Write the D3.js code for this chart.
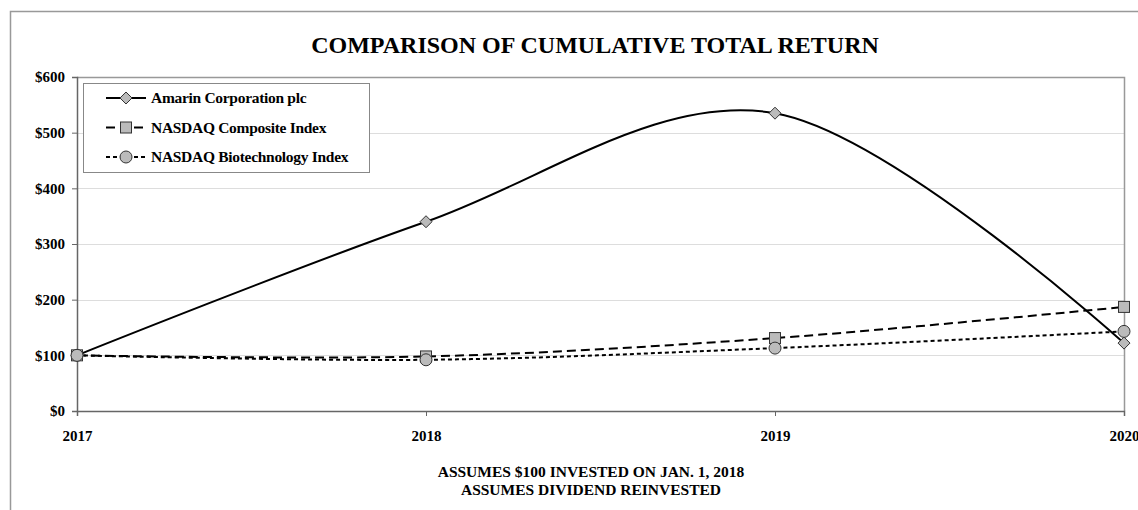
<!DOCTYPE html>
<html>
<head>
<meta charset="utf-8">
<script src="https://cdnjs.cloudflare.com/ajax/libs/d3/7.8.5/d3.min.js"></script>
<style>
  body { margin: 0; background: #fff; }
  svg text { font-family: "Liberation Serif", "Times New Roman", "DejaVu Serif", serif; }
</style>
</head>
<body>
<svg width="1138" height="510"></svg>
<script>
// data
var years = [2017, 2018, 2019, 2020];
var amarin = [100, 340, 535, 122];
var composite = [100, 98, 131, 187];
var biotech = [100, 92, 113, 143];
var yTicks = [0, 100, 200, 300, 400, 500, 600];

var svg = d3.select('svg');

var pLeft = 77, pRight = 1124, pTop = 77, pBottom = 411;

var x = d3.scaleLinear().domain([2017, 2020]).range([pLeft, pRight]);
var y = d3.scaleLinear().domain([0, 600]).range([pBottom, pTop]);

// outer frame (runs off the right / bottom of the picture)
svg.append('rect')
  .attr('x', 10.5)
  .attr('y', 11.5)
  .attr('width', 1200)
  .attr('height', 600)
  .attr('fill', 'none')
  .attr('stroke', '#999')
  .attr('stroke-width', 1.5);

// title
svg.append('text')
  .attr('x', 595)
  .attr('y', 53)
  .attr('text-anchor', 'middle')
  .attr('font-size', 24)
  .attr('font-weight', 'bold')
  .text('COMPARISON OF CUMULATIVE TOTAL RETURN');

// grid lines
svg.append('g')
  .selectAll('line')
  .data(yTicks.slice(1))
  .enter().append('line')
  .attr('x1', pLeft)
  .attr('x2', pRight)
  .attr('y1', function(d) { return Math.round(y(d)) + 0.5; })
  .attr('y2', function(d) { return Math.round(y(d)) + 0.5; })
  .attr('stroke', '#ddd')
  .attr('stroke-width', 1);

// plot area border top + right
svg.append('path')
  .attr('d', 'M' + pLeft + ',' + (pTop + 0.5) + 'H' + (pRight + 0.5) + 'V' + pBottom)
  .attr('fill', 'none')
  .attr('stroke', '#999')
  .attr('stroke-width', 1.5);

// axes
var yAxis = d3.axisLeft(y)
  .tickValues(yTicks)
  .tickSize(5)
  .tickPadding(7)
  .tickFormat(function(d) { return '$' + d; });

var yg = svg.append('g')
  .attr('transform', 'translate(' + pLeft + ',0)')
  .call(yAxis);

var xAxis = d3.axisBottom(x)
  .tickValues(years)
  .tickSize(5)
  .tickPadding(14)
  .tickFormat(d3.format('d'));

var xg = svg.append('g')
  .attr('transform', 'translate(0,' + pBottom + ')')
  .call(xAxis);

[yg, xg].forEach(function(g) {
  g.attr('font-family', null);
  g.select('.domain').attr('stroke', '#666').attr('stroke-width', 1.5);
  g.selectAll('.tick line').attr('stroke', '#666');
  g.selectAll('text')
    .attr('font-size', 15)
    .attr('font-weight', 'bold')
    .attr('fill', '#000');
});

// series
var series = [
  {name: 'Amarin Corporation plc', values: amarin, dash: null, marker: 'diamond'},
  {name: 'NASDAQ Composite Index', values: composite, dash: '9,5', marker: 'square'},
  {name: 'NASDAQ Biotechnology Index', values: biotech, dash: '4,3', marker: 'circle'}
];

var line = d3.line()
  .curve(d3.curveCardinal.tension(0))
  .x(function(d, i) { return x(years[i]); })
  .y(function(d) { return y(d); });

function drawMarker(g, type, cx, cy) {
  if (type == 'diamond') {
    g.append('path')
      .attr('d', 'M' + cx + ',' + (cy - 6) + 'L' + (cx + 6) + ',' + cy + 'L' + cx + ',' + (cy + 6) + 'L' + (cx - 6) + ',' + cy + 'Z')
      .attr('fill', '#bbb').attr('stroke', '#333').attr('stroke-width', 1);
  } else if (type == 'square') {
    g.append('rect')
      .attr('x', cx - 5.5).attr('y', cy - 5.5)
      .attr('width', 11).attr('height', 11)
      .attr('fill', '#bbb').attr('stroke', '#333').attr('stroke-width', 1);
  } else {
    g.append('circle')
      .attr('cx', cx).attr('cy', cy).attr('r', 6)
      .attr('fill', '#bbb').attr('stroke', '#333').attr('stroke-width', 1);
  }
}

series.slice().reverse().forEach(function(s) {
  svg.append('path')
    .attr('d', line(s.values))
    .attr('fill', 'none')
    .attr('stroke', '#000')
    .attr('stroke-width', 2)
    .attr('stroke-dasharray', s.dash);
});

series.forEach(function(s) {
  var g = svg.append('g');
  s.values.forEach(function(v, i) {
    drawMarker(g, s.marker, x(years[i]), y(v));
  });
});

// legend
var legend = svg.append('g');
legend.append('rect')
  .attr('x', 83.5)
  .attr('y', 83.5)
  .attr('width', 286)
  .attr('height', 89)
  .attr('fill', '#fff')
  .attr('stroke', '#888')
  .attr('stroke-width', 1);

series.forEach(function(s, i) {
  var ly = 98 + i * 29.5;
  legend.append('line')
    .attr('x1', 106)
    .attr('x2', 146)
    .attr('y1', ly)
    .attr('y2', ly)
    .attr('stroke', '#000')
    .attr('stroke-width', 2)
    .attr('stroke-dasharray', s.dash);
  drawMarker(legend, s.marker, 126, ly);
  legend.append('text')
    .attr('x', 151)
    .attr('y', ly + 5)
    .attr('font-size', 15.5)
    .attr('font-weight', 'bold')
    .attr('letter-spacing', -0.3)
    .text(s.name);
});

// footnote
var notes = ['ASSUMES $100 INVESTED ON JAN. 1, 2018', 'ASSUMES DIVIDEND REINVESTED'];
svg.append('g')
  .selectAll('text')
  .data(notes)
  .enter().append('text')
  .attr('x', 591)
  .attr('y', function(d, i) { return 477 + i * 18; })
  .attr('text-anchor', 'middle')
  .attr('font-size', 15.5)
  .attr('font-weight', 'bold')
  .text(function(d) { return d; });
</script>
</body>
</html>
